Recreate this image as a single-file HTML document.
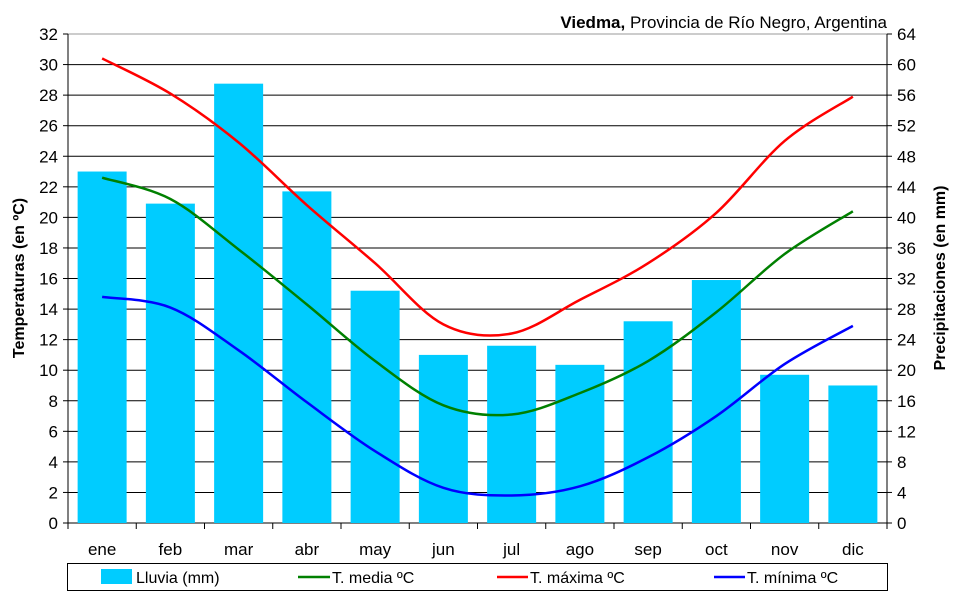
<!DOCTYPE html>
<html><head><meta charset="utf-8"><style>
body{margin:0;background:#fff;}
svg text{font-family:"Liberation Sans",Arial,sans-serif;}
</style></head><body>
<svg id="s" width="960" height="595" xmlns="http://www.w3.org/2000/svg"></svg>
<script>
const s=document.getElementById('s');
const L=68,R=887,T=34,B=523,cw=(R-L)/12,k=(B-T)/32;
const y=v=>B-v*k, cx=i=>L+cw*(i+0.5);
let h='';
// gridlines
for(let v=0;v<=32;v+=2){h+=`<line x1="${L}" x2="${R}" y1="${y(v)}" y2="${y(v)}" stroke="${v==32?'#999':'#000'}" stroke-width="1"/>`;
h+=`<line x1="${L-5}" x2="${L}" y1="${y(v)}" y2="${y(v)}" stroke="#000"/><line x1="${R}" x2="${R+5}" y1="${y(v)}" y2="${y(v)}" stroke="#000"/>`;
h+=`<text x="${L-10}" y="${y(v)+6}" font-size="17" text-anchor="end">${v}</text>`;
h+=`<text x="${R+10}" y="${y(v)+6}" font-size="17">${v*2}</text>`;}
const rain=[23.0,20.9,28.75,21.7,15.2,11.0,11.6,10.35,13.2,15.9,9.7,9.0];
const m=['ene','feb','mar','abr','may','jun','jul','ago','sep','oct','nov','dic'];
rain.forEach((v,i)=>{h+=`<rect x="${cx(i)-24.5}" y="${y(v)}" width="49" height="${B-y(v)}" fill="#00ccff"/>`;
h+=`<text x="${cx(i)}" y="555" font-size="17" text-anchor="middle">${m[i]}</text>`;});
for(let i=0;i<=12;i++)h+=`<line x1="${L+cw*i}" x2="${L+cw*i}" y1="${B}" y2="${B+6}" stroke="#000"/>`;
h+=`<line x1="${L}" x2="${L}" y1="${T}" y2="${B}" stroke="#000"/><line x1="${R}" x2="${R}" y1="${T}" y2="${B}" stroke="#000"/>`;
function curve(d,c){const p=d.map((v,i)=>[cx(i),y(v)]);let str=`M${p[0]}`;
for(let i=0;i<p.length-1;i++){const p0=p[i-1]||p[i],p1=p[i],p2=p[i+1],p3=p[i+2]||p2;
str+=`C${p1[0]+(p2[0]-p0[0])/6},${p1[1]+(p2[1]-p0[1])/6} ${p2[0]-(p3[0]-p1[0])/6},${p2[1]-(p3[1]-p1[1])/6} ${p2[0]},${p2[1]}`;}
return `<path d="${str}" fill="none" stroke="${c}" stroke-width="2.5"/>`;}
h+=curve([22.6,21.2,17.9,14.3,10.6,7.7,7.1,8.5,10.6,13.8,17.6,20.4],'#008000');
h+=curve([30.4,28.1,24.9,20.8,17.0,13.0,12.4,14.6,17.0,20.3,25.0,27.9],'#ff0000');
h+=curve([14.8,14.1,11.3,7.9,4.7,2.3,1.8,2.4,4.3,7.0,10.4,12.9],'#0000ff');
h+=`<text x="887" y="28" font-size="17" text-anchor="end"><tspan font-weight="bold">Viedma,</tspan> Provincia de Río Negro, Argentina</text>`;
h+=`<text transform="translate(24,278) rotate(-90)" font-size="16" font-weight="bold" text-anchor="middle">Temperaturas (en ºC)</text>`;
h+=`<text transform="translate(945,278) rotate(-90)" font-size="16" font-weight="bold" text-anchor="middle">Precipitaciones (en mm)</text>`;
h+=`<rect x="67.5" y="563.5" width="820" height="27" fill="#fff" stroke="#000"/>`;
h+=`<rect x="101" y="569" width="31" height="15" fill="#00ccff"/><text x="136" y="583" font-size="16">Lluvia (mm)</text>`;
h+=`<line x1="298" x2="330" y1="577" y2="577" stroke="#008000" stroke-width="2.5"/><text x="332" y="583" font-size="16">T. media ºC</text>`;
h+=`<line x1="497" x2="528" y1="577" y2="577" stroke="#ff0000" stroke-width="2.5"/><text x="530" y="583" font-size="16">T. máxima ºC</text>`;
h+=`<line x1="714" x2="745" y1="577" y2="577" stroke="#0000ff" stroke-width="2.5"/><text x="747" y="583" font-size="16">T. mínima ºC</text>`;
s.innerHTML=h;
</script>
</body></html>
